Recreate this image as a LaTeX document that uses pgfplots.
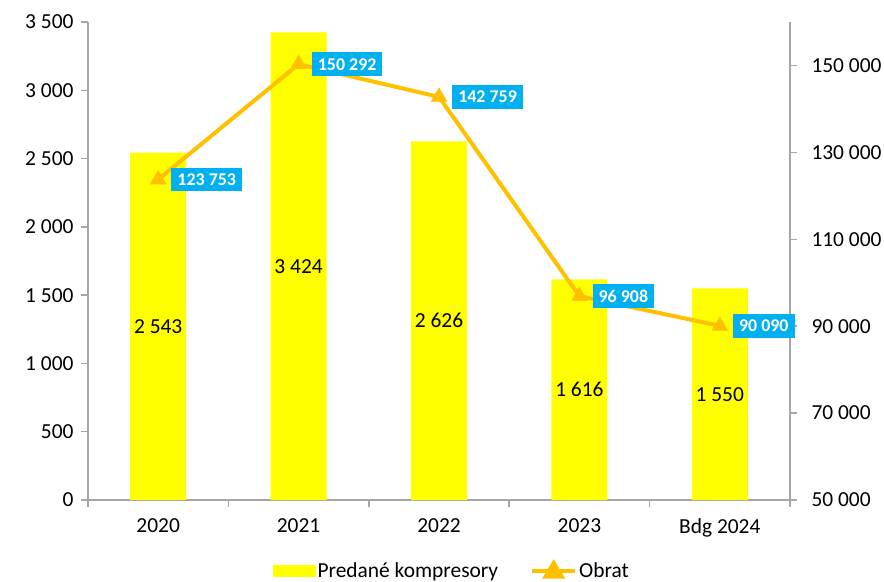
\documentclass[border=0pt]{standalone}
\usepackage{fontspec}
\setmainfont{Carlito}
\usepackage{pgfplots}
\pgfplotsset{compat=1.18}
\definecolor{baryellow}{HTML}{FFFF00}
\definecolor{lineorange}{HTML}{FFC000}
\definecolor{lblblue}{HTML}{00B0F0}
\definecolor{axgray}{HTML}{A6A6A6}
\begin{document}
\begin{tikzpicture}
\pgfplotsset{every axis/.append style={font=\fontsize{21.5}{25}\selectfont}}
\begin{axis}[
  scale only axis, width=702bp, height=478bp,
  xmin=-0.5, xmax=4.5, ymin=0, ymax=3500,
  axis y line*=left, axis x line*=bottom,
  axis line style={axgray, line width=1.5bp},
  ytick={0,500,...,3500},
  xtick={-0.5,0.5,1.5,2.5,3.5,4.5}, xticklabels={},
  extra x ticks={0,1,2,3,4},
  extra x tick labels={2020,2021,2022,2023,Bdg 2024},
  extra x tick style={major tick length=0pt},
  tick align=outside, major tick length=7bp,
  tick style={axgray, line width=1.5bp},
  /pgf/number format/fixed,
  /pgf/number format/1000 sep={\ },
  /pgf/number format/assume math mode=true,
  y tick label style={xshift=-4bp},
  x tick label style={yshift=-15bp},
]
\addplot[ybar, fill=baryellow, draw=none, bar width=56bp]
  coordinates {(0,2543) (1,3424) (2,2626) (3,1616) (4,1550)};
\addplot[draw=none, mark=none, nodes near coords, point meta=explicit,
  nodes near coords align=center,
  every node near coord/.append style={anchor=center, text=black,
    /pgf/number format/fixed, /pgf/number format/precision=0}]
  coordinates {(0,1271.5) [2543] (1,1712) [3424] (2,1313) [2626] (3,808) [1616] (4,775) [1550]};
\end{axis}
\begin{axis}[
  scale only axis, width=702bp, height=478bp,
  xmin=-0.5, xmax=4.5, ymin=50000, ymax=160000,
  axis y line*=right, axis x line=none,
  axis line style={axgray, line width=1.5bp},
  ytick={50000,70000,...,150000},
  scaled y ticks=false,
  tick align=outside, major tick length=7bp,
  tick style={axgray, line width=1.5bp},
  /pgf/number format/fixed,
  /pgf/number format/precision=0,
  /pgf/number format/1000 sep={\ },
  /pgf/number format/assume math mode=true,
  y tick label style={xshift=11bp},
  clip=false,
  legend columns=2,
  legend style={at={(0.5,0)}, anchor=center, xshift=13bp, yshift=-71bp, draw=none, fill=none,
    font=\fontsize{21.5}{25}\selectfont,
    /tikz/every even column/.append style={column sep=30bp}},
]
\addlegendimage{legend image code/.code={\fill[baryellow] (0bp,-5.5bp) rectangle (42bp,5.5bp);}}
\addlegendentry{Predané kompresory}
\addplot[lineorange, line width=4bp, mark=triangle*, mark size=9bp,
  mark options={fill=lineorange, draw=lineorange, line width=0.5bp},
  legend image code/.code={\draw[lineorange, line width=4bp] (0bp,0bp) -- (43bp,0bp);
    \fill[lineorange] (21.5bp,8bp) -- (29.5bp,-5.5bp) -- (13.5bp,-5.5bp) -- cycle;},
  nodes near coords, point meta=explicit,
  every node near coord/.append style={anchor=west, xshift=13bp, fill=lblblue, text=white,
    font=\bfseries\fontsize{18}{21}\selectfont, inner xsep=6bp, inner ysep=6bp}]
  coordinates {(0,123753) [123753] (1,150292) [150292] (2,142759) [142759] (3,96908) [96908] (4,90090) [90090]};
\addlegendentry{Obrat}
\end{axis}
\pgfresetboundingbox
\path (-88bp,-82bp) rectangle (796bp,500bp);
\end{tikzpicture}
\end{document}
